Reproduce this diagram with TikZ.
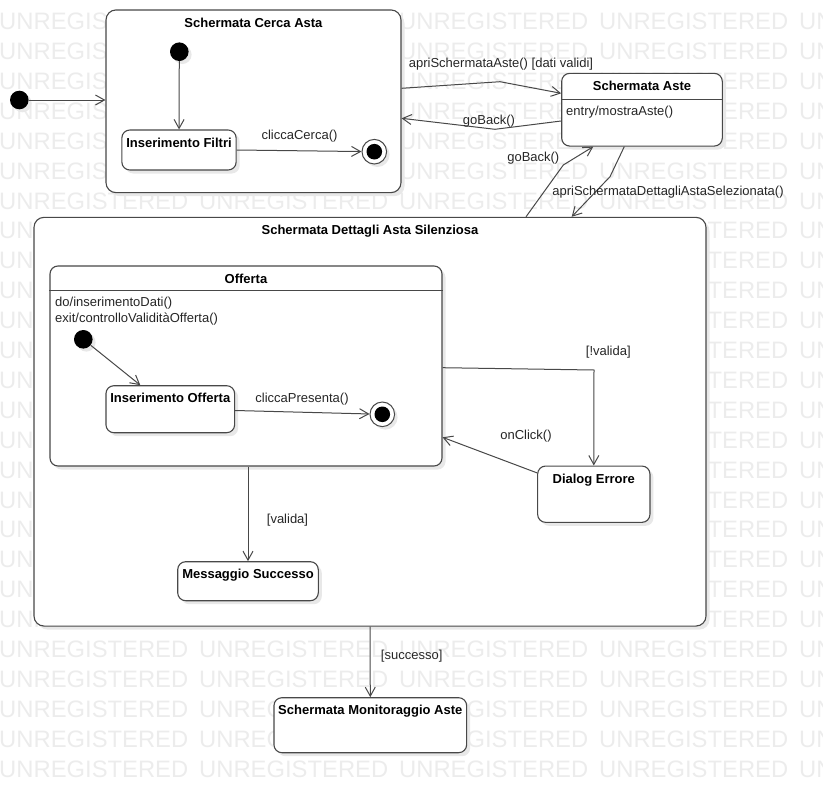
\documentclass[tikz,border=0pt]{standalone}
\usepackage{fontspec}
\setmainfont{Liberation Sans}
\usepackage{xcolor}
\usepackage{tikz}
\usetikzlibrary{arrows.meta, positioning, shadows}
\definecolor{linegray}{RGB}{72,72,72}
\definecolor{wmgray}{RGB}{236,236,236}
\definecolor{shadegray}{RGB}{232,232,232}
\newcommand{\wmword}{\makebox[200pt][l]{UNREGISTERED}}

\begin{document}
\begin{tikzpicture}[x=1pt, y=-1pt, font=\fontsize{13}{15.5}\selectfont,
    statebox/.style={draw=linegray, line width=1.1pt, fill=white, rounded corners=8pt,
        drop shadow={shadow xshift=3.5pt, shadow yshift=-3.5pt, fill=shadegray, opacity=1}},
    stitle/.style={anchor=north, inner sep=0pt, yshift=-8pt, font=\fontsize{13}{15.5}\selectfont\bfseries},
    initst/.style={circle, fill=black, minimum size=18.6pt, inner sep=0pt,
        drop shadow={shadow xshift=3pt, shadow yshift=-3pt, fill=shadegray, opacity=1}},
    finalst/.style={circle, draw=linegray, line width=1pt, fill=white, minimum size=24.6pt, inner sep=0pt,
        drop shadow={shadow xshift=3pt, shadow yshift=-3pt, fill=shadegray, opacity=1},
        path picture={\fill[black] (path picture bounding box.center) circle (7.8pt);}},
    transit/.style={draw=linegray, line width=1pt, -{Straight Barb[length=9pt, width=10pt]}},
    lbl/.style={inner sep=0pt, text=black!85},
    act/.style={anchor=north west, inner sep=0pt, align=left, text=black!85},
    wmark/.style={anchor=west, inner sep=0pt, text=wmgray, font=\fontsize{23.8}{26}\selectfont}]
  \useasboundingbox (0,0) rectangle (823,793);

  % watermark rows
  \begin{scope}
    \clip (0,0) rectangle (823,793);
    \foreach \r in {0,...,25}
      \node[wmark] (wm\r) at (-1,{21.5+29.9*\r}) {\wmword\wmword\wmword\wmword\wmword};
  \end{scope}

  % outer states
  \node[statebox, rounded corners=10pt, minimum width=295pt, minimum height=182.7pt,
    label={[stitle]north:Schermata Cerca Asta}] (cerca) at (253.5,101.3) {};
  \node[statebox, minimum width=160.6pt, minimum height=72.7pt,
    label={[stitle]north:Schermata Aste}] (aste) at (642,109.7) {};
  \draw[draw=linegray, line width=1.1pt] (aste.west |- 0,99.3) -- (aste.east |- 0,99.3);
  \node[act] (asteEntry) at (566,106) {entry/mostraAste()};
  \node[statebox, rounded corners=10pt, minimum width=672pt, minimum height=408.7pt,
    label={[stitle]north:Schermata Dettagli Asta Silenziosa}] (dettagli) at (370,421.7) {};
  \node[statebox, minimum width=192.7pt, minimum height=55pt,
    label={[stitle]north:Schermata Monitoraggio Aste}] (monit) at (370.3,725.2) {};

  % inside Schermata Cerca Asta
  \node[initst] (init0) at (19.3,100) {};
  \node[initst] (init1) at (179.3,51.7) {};
  \node[statebox, minimum width=114.3pt, minimum height=40pt,
    label={[stitle]north:Inserimento Filtri}] (filtri) at (179,150) {};
  \node[finalst] (final1) at (374.3,151.7) {};

  % inside Schermata Dettagli Asta Silenziosa
  \node[statebox, minimum width=392pt, minimum height=200pt,
    label={[stitle]north:Offerta}] (offerta) at (246,366) {};
  \draw[draw=linegray, line width=1.1pt] (offerta.west |- 0,290.7) -- (offerta.east |- 0,290.7);
  \node[act] (offAct) at (55,297.3) {do/inserimentoDati()\\exit/controlloValiditàOfferta()};
  \node[initst] (init2) at (83.3,339.3) {};
  \node[statebox, minimum width=128.7pt, minimum height=47pt,
    label={[stitle]north:Inserimento Offerta}] (insoff) at (170.3,409.2) {};
  \node[finalst] (final2) at (382.3,414.3) {};
  \node[statebox, minimum width=112.3pt, minimum height=56.3pt,
    label={[stitle]north:Dialog Errore}] (dialog) at (593.8,494.2) {};
  \node[statebox, minimum width=140.6pt, minimum height=39pt,
    label={[stitle]north:Messaggio Successo}] (succ) at (248,581.2) {};

  % transitions
  \draw[transit] (init0) -- (cerca.west |- init0);
  \draw[transit] (init1) -- (filtri);
  \draw[transit] (filtri.east) -- (final1);
  \draw[transit] ([yshift=13pt]cerca.east) -- (500,81.7) -- ([yshift=16.4pt]aste.west);
  \draw[transit] ([yshift=-11.3pt]aste.west) -- (495,129.3) -- ([yshift=-17pt]cerca.east);
  \draw[transit] ([xshift=156pt]dettagli.north) -- (563.3,165) -- ([xshift=-48.7pt]aste.south);
  \draw[transit] ([xshift=-17.7pt]aste.south) -- (610,176.7) -- ([xshift=201.7pt]dettagli.north);
  \draw[transit] (init2) -- ([xshift=-30pt]insoff.north);
  \draw[transit] ([yshift=-1.3pt]insoff.east) -- (final2);
  \draw[transit] ([yshift=-1.7pt]offerta.east) -- (594,370) -- (dialog.north);
  \draw[transit] ([yshift=21.3pt]dialog.west) -- ([yshift=-71.3pt]offerta.east);
  \draw[transit] (offerta.south -| succ.north) -- (succ.north);
  \draw[transit] (dettagli.south) -- (monit.north);

  % transition labels
  \node[lbl] (lCerca) at (299.5,136.5) {cliccaCerca()};
  \node[lbl] (lApriAste) at (501,64) {apriSchermataAste() [dati validi]};
  \node[lbl] (lBack1) at (489,121) {goBack()};
  \node[lbl] (lBack2) at (533.3,158.3) {goBack()};
  \node[lbl] (lApriDett) at (668,192.5) {apriSchermataDettagliAstaSelezionata()};
  \node[lbl] (lPresenta) at (302,399) {cliccaPresenta()};
  \node[lbl] (lNonValida) at (608.3,352) {[!valida]};
  \node[lbl] (lClick) at (526,436) {onClick()};
  \node[lbl] (lValida) at (287.5,520.5) {[valida]};
  \node[lbl] (lSuccesso) at (411.7,656.5) {[successo]};
\end{tikzpicture}
\end{document}
